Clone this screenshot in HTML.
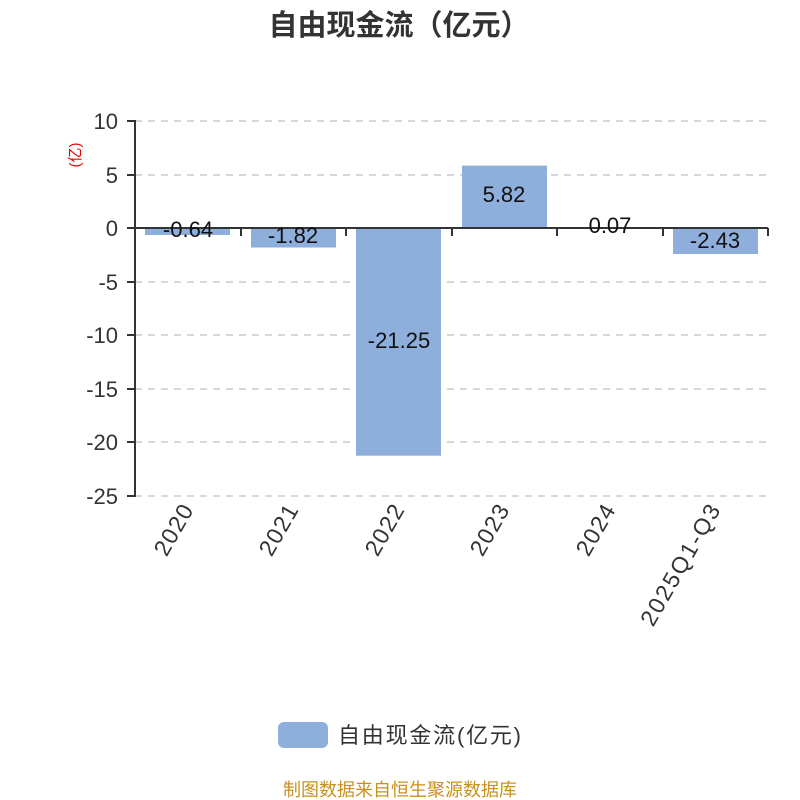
<!DOCTYPE html>
<html><head><meta charset="utf-8"><style>
body{margin:0;background:#fff;}
svg{display:block;font-family:"Liberation Sans","Noto Sans CJK SC",sans-serif;}
</style></head><body>
<svg width="800" height="800" viewBox="0 0 800 800">
<rect width="800" height="800" fill="#fff"/>
<text x="399" y="35" text-anchor="middle" font-size="29" font-weight="bold" fill="#333">自由现金流（亿元）</text>
<g stroke="#ccc" stroke-width="1.5" stroke-dasharray="7,6">
<line x1="135" y1="121" x2="768" y2="121"/>
<line x1="135" y1="175" x2="768" y2="175"/>
<line x1="135" y1="282" x2="768" y2="282"/>
<line x1="135" y1="335" x2="768" y2="335"/>
<line x1="135" y1="389" x2="768" y2="389"/>
<line x1="135" y1="442" x2="768" y2="442"/>
<line x1="135" y1="496" x2="768" y2="496"/>
</g>
<g fill="#8eaedb">
<rect x="145" y="228" width="85" height="7"/>
<rect x="251" y="228" width="85" height="19.5"/>
<rect x="356" y="228" width="85" height="227.7"/>
<rect x="462" y="165.6" width="85" height="62.4"/>
<rect x="567" y="227" width="85" height="1"/>
<rect x="673" y="228" width="85" height="26"/>
</g>
<g stroke="#333" stroke-width="2" fill="none">
<line x1="135" y1="120" x2="135" y2="497"/>
<line x1="134" y1="228" x2="768" y2="228"/>
<line x1="127" y1="121" x2="135" y2="121"/>
<line x1="127" y1="175" x2="135" y2="175"/>
<line x1="127" y1="228" x2="135" y2="228"/>
<line x1="127" y1="282" x2="135" y2="282"/>
<line x1="127" y1="335" x2="135" y2="335"/>
<line x1="127" y1="389" x2="135" y2="389"/>
<line x1="127" y1="442" x2="135" y2="442"/>
<line x1="127" y1="496" x2="135" y2="496"/>
<line x1="241" y1="228" x2="241" y2="236"/>
<line x1="346" y1="228" x2="346" y2="236"/>
<line x1="452" y1="228" x2="452" y2="236"/>
<line x1="557" y1="228" x2="557" y2="236"/>
<line x1="663" y1="228" x2="663" y2="236"/>
<line x1="768" y1="228" x2="768" y2="236"/>
</g>
<g font-size="22" fill="#333" text-anchor="end">
<text x="118" y="129">10</text>
<text x="118" y="183">5</text>
<text x="118" y="236">0</text>
<text x="118" y="290">-5</text>
<text x="118" y="343">-10</text>
<text x="118" y="397">-15</text>
<text x="118" y="450">-20</text>
<text x="118" y="504">-25</text>
</g>
<text transform="translate(80,155) rotate(-90)" text-anchor="middle" font-size="15" fill="#e00">(亿)</text>
<g font-size="22" fill="#111" text-anchor="middle">
<text x="188" y="237">-0.64</text>
<text x="293" y="243">-1.82</text>
<text x="399" y="348">-21.25</text>
<text x="504" y="202">5.82</text>
<text x="610" y="233">0.07</text>
<text x="715" y="248">-2.43</text>
</g>
<g font-size="23" fill="#333" text-anchor="end">
<text transform="translate(194,510) rotate(-60)" textLength="55">2020</text>
<text transform="translate(299,510) rotate(-60)" textLength="55">2021</text>
<text transform="translate(405,510) rotate(-60)" textLength="55">2022</text>
<text transform="translate(510,510) rotate(-60)" textLength="55">2023</text>
<text transform="translate(616,510) rotate(-60)" textLength="55">2024</text>
<text transform="translate(721,510) rotate(-60)" textLength="136">2025Q1-Q3</text>
</g>
<rect x="278" y="722" width="50" height="26" rx="6" fill="#8eaedb"/>
<text x="338" y="743" font-size="22" fill="#333" textLength="183">自由现金流(亿元)</text>
<text x="400" y="796" text-anchor="middle" font-size="18" fill="#c8901e">制图数据来自恒生聚源数据库</text>
</svg>
</body></html>
